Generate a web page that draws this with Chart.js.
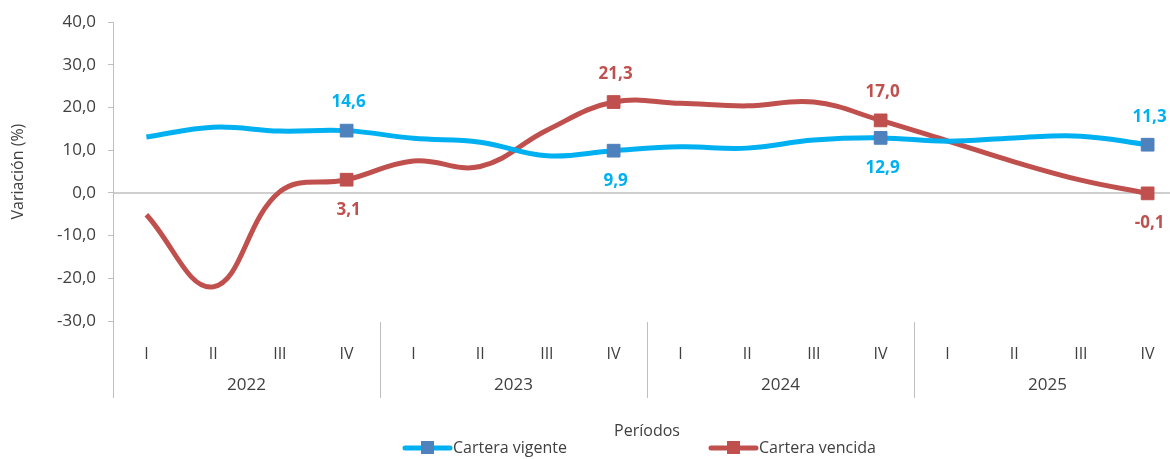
<!DOCTYPE html>
<html>
<head>
<meta charset="utf-8">
<script src="https://cdn.jsdelivr.net/npm/chart.js@4.4.1/dist/chart.umd.min.js"></script>
<style>
  html { margin: 0; padding: 0; overflow: hidden; background: #fff; }
  body { margin: 0; padding: 0; background: #fff; width: 1182px; height: 459px; }
  canvas { display: block; }
</style>
</head>
<body>
<canvas id="myChart" width="1182" height="459" style="width:1182px;height:459px"></canvas>
<script>
// data
const quarters = ['I', 'II', 'III', 'IV', 'I', 'II', 'III', 'IV', 'I', 'II', 'III', 'IV', 'I', 'II', 'III', 'IV'];
const years = ['2022', '2023', '2024', '2025'];
const vigente = [13.1, 15.4, 14.5, 14.6, 12.8, 11.9, 8.7, 9.9, 10.8, 10.5, 12.4, 12.9, 12.1, 12.9, 13.3, 11.3];
const vencida = [-5.1, -22.0, 0.3, 3.1, 7.5, 6.2, 14.7, 21.3, 21.0, 20.4, 21.3, 17.0, 12.2, 7.3, 3.0, -0.1];
const labeledIdx = [3, 7, 11, 15];
const vigenteLabelPos = ['above', 'below', 'below', 'above'];
const vencidaLabelPos = ['below', 'above', 'above', 'below'];

const textColor = '#404040';
const blueLine = '#00B0F0';
const blueMark = '#4F81BD';
const redLine = '#C0504D';
const axisGray = '#BFBFBF';
const font = '"Open Sans", sans-serif';

function fmt(v) {
    return v.toFixed(1).replace('.', ',');
}

function radii() {
    return quarters.map((q, i) => labeledIdx.includes(i) ? 9 : 0);
}

const decorations = {
    id: 'decorations',
    beforeDatasetsDraw(chart) {
        const ctx = chart.ctx;
        const area = chart.chartArea;
        const y0 = chart.scales.y.getPixelForValue(0);
        ctx.save();
        ctx.strokeStyle = axisGray;
        ctx.lineWidth = 1.5;
        ctx.beginPath();
        ctx.moveTo(area.left, y0);
        ctx.lineTo(area.right, y0);
        ctx.stroke();
        ctx.restore();
    },
    afterDatasetsDraw(chart) {
        const ctx = chart.ctx;
        const area = chart.chartArea;
        const x = chart.scales.x;
        ctx.save();

        // group dividers and year labels
        ctx.strokeStyle = axisGray;
        ctx.lineWidth = 1;
        const step = x.getPixelForValue(1) - x.getPixelForValue(0);
        for (let g = 0; g <= years.length; g++) {
            const px = Math.round(x.getPixelForValue(g * 4) - step / 2) + 0.5;
            ctx.beginPath();
            ctx.moveTo(px, area.bottom + 1);
            ctx.lineTo(px, area.bottom + 77);
            ctx.stroke();
        }
        ctx.fillStyle = textColor;
        ctx.font = '17px ' + font;
        ctx.textAlign = 'center';
        ctx.textBaseline = 'middle';
        years.forEach((yr, g) => {
            const cx = (x.getPixelForValue(g * 4) + x.getPixelForValue(g * 4 + 3)) / 2;
            ctx.fillText(yr, cx, area.bottom + 64);
        });

        // axis titles
        ctx.font = '16px ' + font;
        ctx.fillText('Períodos', (area.left + area.right) / 2, area.bottom + 110);
        ctx.save();
        ctx.translate(18, (area.top + area.bottom) / 2);
        ctx.rotate(-Math.PI / 2);
        ctx.fillText('Variación (%)', 0, 0);
        ctx.restore();

        // legend
        const ly = area.bottom + 127;
        const items = [
            {x: 405, line: blueLine, mark: blueMark, text: 'Cartera vigente'},
            {x: 711, line: redLine, mark: redLine, text: 'Cartera vencida'}
        ];
        items.forEach(it => {
            ctx.strokeStyle = it.line;
            ctx.lineWidth = 5;
            ctx.lineCap = 'round';
            ctx.beginPath();
            ctx.moveTo(it.x, ly);
            ctx.lineTo(it.x + 45, ly);
            ctx.stroke();
            ctx.fillStyle = it.mark;
            ctx.fillRect(it.x + 16, ly - 7, 13, 13);
            ctx.fillStyle = textColor;
            ctx.textAlign = 'left';
            ctx.font = '16px ' + font;
            ctx.fillText(it.text, it.x + 48, ly);
        });

        // data labels
        ctx.font = 'bold 17px ' + font;
        ctx.textAlign = 'center';
        const sets = [
            {meta: chart.getDatasetMeta(0), vals: vigente, pos: vigenteLabelPos, color: blueLine},
            {meta: chart.getDatasetMeta(1), vals: vencida, pos: vencidaLabelPos, color: redLine}
        ];
        sets.forEach(s => {
            ctx.fillStyle = s.color;
            labeledIdx.forEach((idx, k) => {
                const pt = s.meta.data[idx];
                const dy = s.pos[k] === 'above' ? -28 : 30;
                ctx.fillText(fmt(s.vals[idx]), pt.x + 2, pt.y + dy);
            });
        });
        ctx.restore();
    }
};

document.addEventListener('DOMContentLoaded', function() {
    const ctx = document.getElementById('myChart');
    const myChart = new Chart(ctx, {
        type: 'line',
        data: {
            labels: quarters,
            datasets: [{
                label: 'Cartera vigente',
                data: vigente,
                borderColor: blueLine,
                borderWidth: 5,
                tension: 0.4,
                pointStyle: 'rect',
                pointRadius: radii(),
                pointBackgroundColor: blueMark,
                pointBorderColor: blueMark,
                pointBorderWidth: 1
            }, {
                label: 'Cartera vencida',
                data: vencida,
                borderColor: redLine,
                borderWidth: 5,
                tension: 0.4,
                pointStyle: 'rect',
                pointRadius: radii(),
                pointBackgroundColor: redLine,
                pointBorderColor: redLine,
                pointBorderWidth: 1
            }]
        },
        options: {
            responsive: false,
            animation: false,
            events: [],
            layout: {autoPadding: false, padding: {top: 22, left: 0, right: 1, bottom: 0}},
            plugins: {
                legend: {display: false},
                tooltip: {enabled: false}
            },
            scales: {
                x: {
                    offset: true,
                    grid: {display: false, offset: true},
                    border: {display: false},
                    ticks: {
                        color: textColor,
                        font: {family: font, size: 16},
                        padding: 16,
                        maxRotation: 0,
                        autoSkip: false
                    },
                    afterFit(scale) {
                        scale.height = 138;
                        scale.paddingLeft = 0;
                        scale.paddingRight = 0;
                    }
                },
                y: {
                    min: -30,
                    max: 40,
                    grid: {
                        drawOnChartArea: false,
                        color: axisGray,
                        tickLength: 5
                    },
                    border: {color: axisGray, width: 1},
                    ticks: {
                        stepSize: 10,
                        color: textColor,
                        font: {family: font, size: 17},
                        padding: 12,
                        callback: function(value) { return fmt(value); }
                    },
                    afterFit(scale) { scale.width = 113; }
                }
            }
        },
        plugins: [decorations]
    });
});
</script>
</body>
</html>
